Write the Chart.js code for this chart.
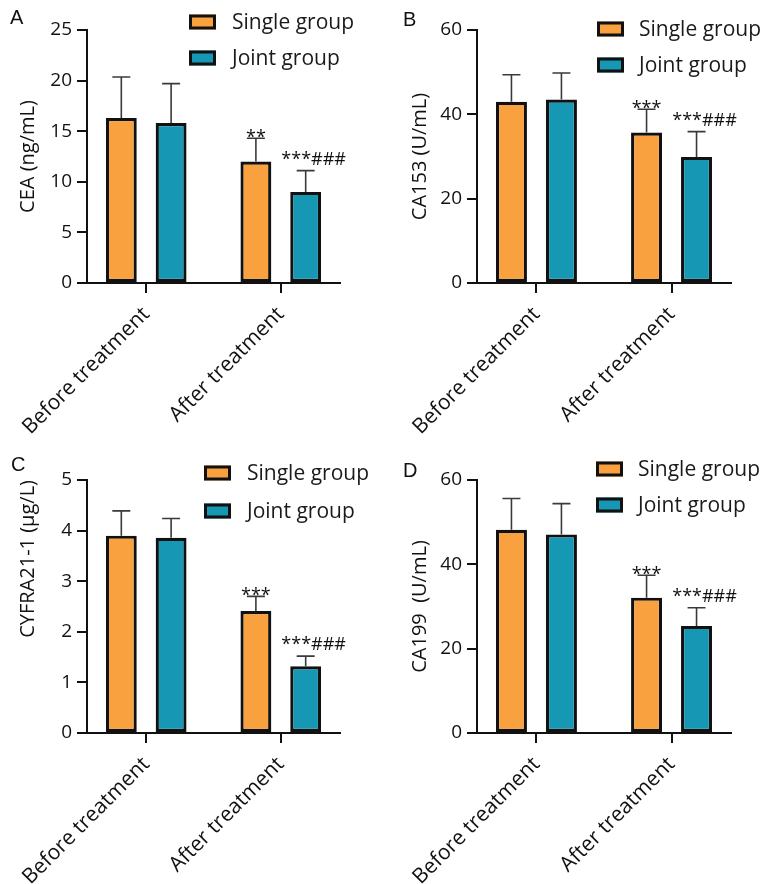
<!DOCTYPE html>
<html><head><meta charset="utf-8">
<script src="https://cdn.jsdelivr.net/npm/chart.js@4.4.0/dist/chart.umd.min.js"></script>
<style>
html,body{margin:0;padding:0;background:#fff;}
#wrap{position:relative;width:766px;height:884px;overflow:hidden;}
.panel{position:absolute;width:383px;height:434px;}
.panel canvas{display:block;}
.letter{position:absolute;font-family:'Liberation Sans',Arial,sans-serif;font-size:20px;line-height:20px;color:#111;}
</style></head><body>
<div id="wrap">
  <div class="panel" style="left:0;top:0"><canvas id="cA" width="383" height="434"></canvas></div>
  <div class="panel" style="left:383px;top:0"><canvas id="cB" width="383" height="434"></canvas></div>
  <div class="panel" style="left:0;top:450px"><canvas id="cC" width="383" height="434"></canvas></div>
  <div class="panel" style="left:383px;top:450px"><canvas id="cD" width="383" height="434"></canvas></div>
  <div class="letter" style="left:10px;top:7px">A</div>
  <div class="letter" style="left:403px;top:9px">B</div>
  <div class="letter" style="left:11px;top:454px">C</div>
  <div class="letter" style="left:403px;top:460px">D</div>
</div>
<script>
// ---- data ----
const categories = ['Before treatment', 'After treatment'];
const seriesNames = ['Single group', 'Joint group'];

const ceaSingle = [16.3, 12.0];
const ceaSingleSD = [4.05, 2.3];
const ceaJoint = [15.8, 9.0];
const ceaJointSD = [3.9, 2.1];
const ceaSingleMarks = ['', '**'];
const ceaJointMarks = ['', '***###'];

const ca153Single = [43.0, 35.7];
const ca153SingleSD = [6.4, 5.5];
const ca153Joint = [43.5, 29.9];
const ca153JointSD = [6.3, 6.0];
const ca153SingleMarks = ['', '***'];
const ca153JointMarks = ['', '***###'];

const cyfraSingle = [3.90, 2.41];
const cyfraSingleSD = [0.49, 0.29];
const cyfraJoint = [3.86, 1.32];
const cyfraJointSD = [0.38, 0.20];
const cyfraSingleMarks = ['', '***'];
const cyfraJointMarks = ['', '***###'];

const ca199Single = [48.2, 32.1];
const ca199SingleSD = [7.4, 5.3];
const ca199Joint = [47.1, 25.4];
const ca199JointSD = [7.3, 4.3];
const ca199SingleMarks = ['', '***'];
const ca199JointMarks = ['', '***###'];

const yTicksA = [0, 5, 10, 15, 20, 25];
const yTicksB = [0, 20, 40, 60];
const yTicksC = [0, 1, 2, 3, 4, 5];
const yTicksD = [0, 20, 40, 60];

// ---- styles ----
const ORANGE = '#F9A13E';
const TEAL = '#1698B4';
const FONT = "'Open Sans', 'DejaVu Sans', sans-serif";

const errorBars = {
  id: 'errorBars',
  afterDatasetsDraw(chart) {
    const ctx = chart.ctx;
    const ys = chart.scales.y;
    chart.data.datasets.forEach((ds, di) => {
      const meta = chart.getDatasetMeta(di);
      meta.data.forEach((bar, i) => {
        const v = ds.data[i].y;
        const e = ds.errors[i];
        const top = ys.getPixelForValue(v + e);
        ctx.save();
        ctx.strokeStyle = '#3a3a3a';
        ctx.lineWidth = 1.6;
        ctx.beginPath();
        ctx.moveTo(bar.x, bar.y);
        ctx.lineTo(bar.x, top);
        ctx.moveTo(bar.x - 9, top);
        ctx.lineTo(bar.x + 9, top);
        ctx.stroke();
        const mark = ds.marks[i];
        if (mark) {
          ctx.fillStyle = '#111';
          ctx.font = '18px ' + FONT;
          ctx.textAlign = 'center';
          ctx.textBaseline = 'alphabetic';
          if (mark.indexOf('#') >= 0) {
            ctx.fillText(mark, bar.x + 8, top - 6);
          } else {
            ctx.fillText(mark, bar.x, top + 5);
          }
        }
        ctx.restore();
      });
    });
  }
};

const boxLegend = {
  id: 'boxLegend',
  afterDraw(chart, args, opts) {
    const ctx = chart.ctx;
    chart.data.datasets.forEach((ds, di) => {
      const cy = opts.rows[di];
      ctx.save();
      ctx.fillStyle = ds.backgroundColor;
      ctx.fillRect(opts.boxX, cy - 7.5, 27, 15);
      ctx.strokeStyle = '#111';
      ctx.lineWidth = 3;
      ctx.strokeRect(opts.boxX + 1.5, cy - 6, 24, 12);
      ctx.fillStyle = '#1a1a1a';
      ctx.font = '21px ' + FONT;
      ctx.textAlign = 'left';
      ctx.textBaseline = 'middle';
      ctx.fillText(ds.label, opts.textX, cy + 1);
      ctx.restore();
    });
  }
};

function makeData(single, singleSD, singleMarks, joint, jointSD, jointMarks) {
  return {
    datasets: [
      { label: seriesNames[0], data: categories.map((c, i) => ({ x: i, y: single[i] })),
        errors: singleSD, marks: singleMarks, backgroundColor: ORANGE },
      { label: seriesNames[1], data: categories.map((c, i) => ({ x: i, y: joint[i] })),
        errors: jointSD, marks: jointMarks, backgroundColor: TEAL }
    ]
  };
}

function makeChart(id, data, cfg) {
  return new Chart(document.getElementById(id), {
    type: 'bar',
    data: data,
    plugins: [errorBars, boxLegend],
    options: {
      responsive: false,
      animation: false,
      events: [],
      layout: { padding: { left: 0, right: cfg.padRight, top: 30, bottom: 0 } },
      datasets: {
        bar: {
          borderColor: '#111', borderWidth: 3.2, borderSkipped: false,
          categoryPercentage: 0.74, barPercentage: 0.62
        }
      },
      plugins: {
        legend: { display: false },
        tooltip: { enabled: false },
        boxLegend: cfg.legend
      },
      scales: {
        x: {
          type: 'linear', min: -0.44, max: 1.44, offset: false,
          afterBuildTicks(s) { s.ticks = categories.map((c, i) => ({ value: i })); },
          afterFit(s) { s.height = 151; s.paddingLeft = 0; s.paddingRight = 0; },
          grid: { display: true, offset: false, drawOnChartArea: false, drawTicks: true, tickLength: 10, color: '#111', lineWidth: 2 },
          border: { display: true, color: '#111', width: 2 },
          ticks: {
            autoSkip: false, minRotation: 45, maxRotation: 45, padding: 9,
            color: '#111', font: { family: FONT, size: 21 },
            callback: (v) => categories[v]
          }
        },
        y: {
          min: 0, max: cfg.yMax,
          afterBuildTicks(s) { s.ticks = cfg.yTicks.map(v => ({ value: v })); },
          afterFit(s) { s.width = cfg.axisX; s.paddingTop = 0; s.paddingBottom = 0; },
          grid: { display: true, drawOnChartArea: false, drawTicks: true, tickLength: 10, color: '#111', lineWidth: 2 },
          border: { display: true, color: '#111', width: 2 },
          ticks: { padding: 5, color: '#111', font: { family: FONT, size: 19 } },
          title: {
            display: true, text: cfg.title, color: '#111', align: cfg.titleAlign || 'center',
            font: { family: FONT, size: 20 }, padding: { top: cfg.titlePad, bottom: 0 }
          }
        }
      }
    }
  });
}

makeChart('cA', makeData(ceaSingle, ceaSingleSD, ceaSingleMarks, ceaJoint, ceaJointSD, ceaJointMarks),
  { title: 'CEA (ng/mL)', yMax: 25, yTicks: yTicksA, axisX: 87, padRight: 43, titlePad: 16,
    legend: { boxX: 189, textX: 232, rows: [22, 58] } });
makeChart('cB', makeData(ca153Single, ca153SingleSD, ca153SingleMarks, ca153Joint, ca153JointSD, ca153JointMarks),
  { title: 'CA153 (U/mL)', yMax: 60, yTicks: yTicksB, axisX: 94, padRight: 35, titlePad: 25,
    legend: { boxX: 214, textX: 256, rows: [29, 65] } });
makeChart('cC', makeData(cyfraSingle, cyfraSingleSD, cyfraSingleMarks, cyfraJoint, cyfraJointSD, cyfraJointMarks),
  { title: 'CYFRA21-1 (μg/L)', yMax: 5, yTicks: yTicksC, axisX: 87, padRight: 43, titlePad: 16, titleAlign: 'end',
    legend: { boxX: 204, textX: 247, rows: [23, 61] } });
makeChart('cD', makeData(ca199Single, ca199SingleSD, ca199SingleMarks, ca199Joint, ca199JointSD, ca199JointMarks),
  { title: 'CA199  (U/mL)', yMax: 60, yTicks: yTicksD, axisX: 94, padRight: 35, titlePad: 25,
    legend: { boxX: 213, textX: 255, rows: [19, 55] } });
</script>
</body></html>
